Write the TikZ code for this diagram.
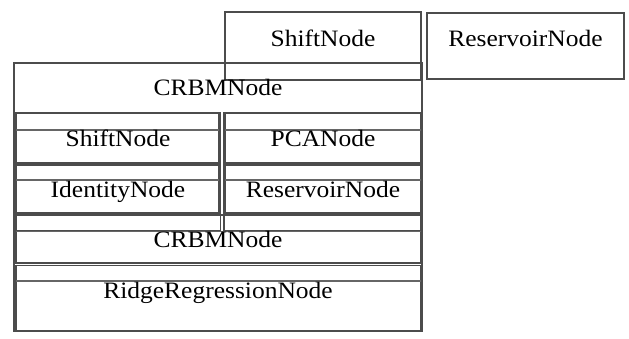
\documentclass[tikz,border=0pt]{standalone}
\usepackage{fontspec}
\setmainfont{Liberation Serif}[FakeStretch=1.085]
\begin{document}
\begin{tikzpicture}[x=1pt,y=-1pt,
  cell/.style={draw=black!70, line width=1.25pt},
  sep/.style={draw=black!60, line width=1.25pt},
  lbl/.style={anchor=base, inner sep=0pt, font=\fontsize{23.5}{28}\selectfont}]
\useasboundingbox[fill=white] (0,0) rectangle (629,338);
% top boxes
\draw[cell] (225,12) rectangle (421,80);
\draw[cell] (427,13) rectangle (624,79);
% outer CRBM box
\draw[cell] (14,63) rectangle (422,331);
% column boxes
\draw[cell] (16,113) rectangle (220.5,231);
\draw[cell] (224,113) rectangle (421,231);
% inner cells
\draw[cell] (16,113) rectangle (219,163);
\draw[sep] (16,130) -- (219,130);
\draw[cell] (225,113) rectangle (421,163);
\draw[sep] (225,130) -- (421,130);
\draw[cell] (16,165) rectangle (219,213);
\draw[sep] (16,180) -- (219,180);
\draw[cell] (225,165) rectangle (421,213);
\draw[sep] (225,180) -- (421,180);
% second CRBM box
\draw[cell] (16,215) rectangle (421,263);
\draw[sep] (16,231.5) -- (421,231.5);
% ridge box
\draw[cell] (16,265.5) rectangle (421,331);
\draw[sep] (16,281) -- (421,281);
% labels
\node[lbl] (shiftTop) at (323,46) {ShiftNode};
\node[lbl] (resTop) at (525.5,46) {ReservoirNode};
\node[lbl] (crbm1) at (218,95.5) {CRBMNode};
\node[lbl] (shift) at (118,146) {ShiftNode};
\node[lbl] (pca) at (323,146) {PCANode};
\node[lbl] (ident) at (118,197) {IdentityNode};
\node[lbl] (resIn) at (323,197) {ReservoirNode};
\node[lbl] (crbm2) at (218,247.5) {CRBMNode};
\node[lbl] (ridge) at (218,298) {RidgeRegressionNode};
\end{tikzpicture}
\end{document}
